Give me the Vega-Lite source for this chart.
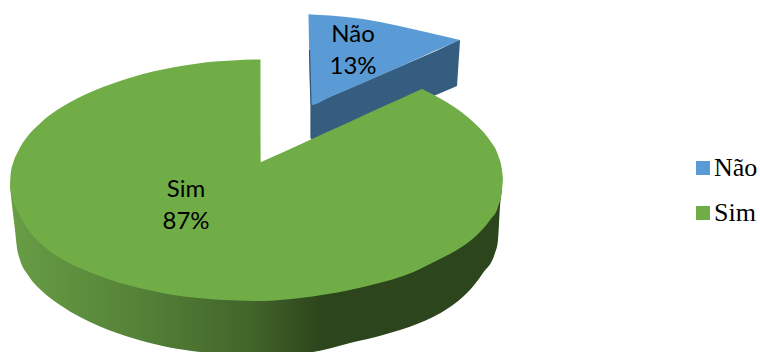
{
  "$schema": "https://vega.github.io/schema/vega-lite/v6.json",
  "width": 760,
  "height": 352,
  "padding": 0,
  "autosize": {"type": "fit", "contains": "padding"},
  "background": "white",
  "config": {
    "view": {"stroke": null},
    "legend": {"labelFont": "Liberation Serif", "labelFontSize": 26, "labelColor": "#000000", "padding": 0}
  },
  "datasets": {
    "tops": [
      {"answer": "Não", "x": 308.5, "y": 14, "y2": 14},
      {"answer": "Não", "x": 311, "y": 14.5, "y2": 105},
      {"answer": "Não", "x": 330, "y": 15.5, "y2": 97},
      {"answer": "Não", "x": 363, "y": 19, "y2": 83},
      {"answer": "Não", "x": 397, "y": 25.5, "y2": 68},
      {"answer": "Não", "x": 430, "y": 33, "y2": 53},
      {"answer": "Não", "x": 460, "y": 40, "y2": 40},
      {"answer": "Sim", "x": 10, "y": 185, "y2": 185},
      {"answer": "Sim", "x": 10.5, "y": 176, "y2": 190},
      {"answer": "Sim", "x": 11, "y": 171.5, "y2": 192},
      {"answer": "Sim", "x": 13, "y": 163.4, "y2": 200},
      {"answer": "Sim", "x": 18, "y": 151.4, "y2": 212},
      {"answer": "Sim", "x": 27, "y": 137, "y2": 228},
      {"answer": "Sim", "x": 40, "y": 123.4, "y2": 243},
      {"answer": "Sim", "x": 57, "y": 110.1, "y2": 256},
      {"answer": "Sim", "x": 70, "y": 102.3, "y2": 263.5},
      {"answer": "Sim", "x": 87, "y": 93.8, "y2": 271},
      {"answer": "Sim", "x": 103, "y": 87.1, "y2": 277.3},
      {"answer": "Sim", "x": 120, "y": 81, "y2": 283},
      {"answer": "Sim", "x": 137, "y": 75.8, "y2": 287.5},
      {"answer": "Sim", "x": 153, "y": 71.6, "y2": 291},
      {"answer": "Sim", "x": 170, "y": 68, "y2": 294.5},
      {"answer": "Sim", "x": 198, "y": 63.5, "y2": 298},
      {"answer": "Sim", "x": 215, "y": 61.6, "y2": 299.5},
      {"answer": "Sim", "x": 232, "y": 60.4, "y2": 300.3},
      {"answer": "Sim", "x": 260.5, "y": 59.5, "y2": 301},
      {"answer": "Sim", "x": 261, "y": 162, "y2": 301},
      {"answer": "Sim", "x": 265, "y": 160.2, "y2": 300.9},
      {"answer": "Sim", "x": 300, "y": 144.4, "y2": 298},
      {"answer": "Sim", "x": 350, "y": 121.7, "y2": 290},
      {"answer": "Sim", "x": 383, "y": 106.6, "y2": 282},
      {"answer": "Sim", "x": 400, "y": 99, "y2": 277},
      {"answer": "Sim", "x": 418, "y": 90.8, "y2": 270},
      {"answer": "Sim", "x": 422, "y": 89, "y2": 268},
      {"answer": "Sim", "x": 426, "y": 91, "y2": 266},
      {"answer": "Sim", "x": 443, "y": 100, "y2": 257.5},
      {"answer": "Sim", "x": 460, "y": 111, "y2": 248},
      {"answer": "Sim", "x": 477, "y": 125.5, "y2": 235},
      {"answer": "Sim", "x": 490, "y": 140.5, "y2": 220},
      {"answer": "Sim", "x": 498, "y": 155, "y2": 207},
      {"answer": "Sim", "x": 502, "y": 170, "y2": 190},
      {"answer": "Sim", "x": 503, "y": 179, "y2": 179}
    ],
    "walls": [
      {"answer": "Não", "x": 311, "y": 105, "y2": 140},
      {"answer": "Não", "x": 436, "y": 51, "y2": 95},
      {"answer": "Não", "x": 457, "y": 41, "y2": 86},
      {"answer": "Não", "x": 460, "y": 40, "y2": 41},
      {"answer": "Sim", "x": 10, "y": 185, "y2": 185},
      {"answer": "Sim", "x": 12, "y": 190, "y2": 205},
      {"answer": "Sim", "x": 15, "y": 200, "y2": 230},
      {"answer": "Sim", "x": 17, "y": 205, "y2": 248},
      {"answer": "Sim", "x": 20, "y": 210, "y2": 260},
      {"answer": "Sim", "x": 28, "y": 225, "y2": 275},
      {"answer": "Sim", "x": 43, "y": 240, "y2": 292},
      {"answer": "Sim", "x": 60, "y": 252, "y2": 305},
      {"answer": "Sim", "x": 80, "y": 262, "y2": 317},
      {"answer": "Sim", "x": 100, "y": 270, "y2": 326.5},
      {"answer": "Sim", "x": 117, "y": 278, "y2": 333},
      {"answer": "Sim", "x": 133, "y": 283, "y2": 338.3},
      {"answer": "Sim", "x": 167, "y": 290, "y2": 347},
      {"answer": "Sim", "x": 200, "y": 295, "y2": 352},
      {"answer": "Sim", "x": 230, "y": 298, "y2": 355},
      {"answer": "Sim", "x": 260, "y": 299, "y2": 356},
      {"answer": "Sim", "x": 290, "y": 297, "y2": 354},
      {"answer": "Sim", "x": 313, "y": 295, "y2": 352},
      {"answer": "Sim", "x": 350, "y": 287, "y2": 343},
      {"answer": "Sim", "x": 383, "y": 279, "y2": 335},
      {"answer": "Sim", "x": 400, "y": 274, "y2": 330},
      {"answer": "Sim", "x": 417, "y": 268, "y2": 324},
      {"answer": "Sim", "x": 433, "y": 260, "y2": 317},
      {"answer": "Sim", "x": 450, "y": 250, "y2": 307},
      {"answer": "Sim", "x": 467, "y": 240, "y2": 293},
      {"answer": "Sim", "x": 483, "y": 225, "y2": 273},
      {"answer": "Sim", "x": 495, "y": 208, "y2": 253},
      {"answer": "Sim", "x": 498, "y": 203, "y2": 240},
      {"answer": "Sim", "x": 500, "y": 195, "y2": 207},
      {"answer": "Sim", "x": 502, "y": 188, "y2": 190}
    ],
    "edges": [
      {"x": 309.5, "y": 50},
      {"x": 311, "y": 105},
      {"x": 311, "y": 138}
    ],
    "labels": [
      {"answer": "Não", "label": "Não\n13%", "x": 353, "y": 35},
      {"answer": "Sim", "label": "Sim\n87%", "x": 186, "y": 190}
    ]
  },
  "layer": [
    {
      "data": {"name": "walls"},
      "transform": [{"filter": "datum.answer === 'Não'"}],
      "mark": {"type": "area", "color": "#355d80", "clip": true},
      "encoding": {
        "x": {"field": "x", "type": "quantitative", "scale": {"domain": [0, 760]}, "axis": null},
        "y": {"field": "y", "type": "quantitative", "scale": {"domain": [352, 0]}, "axis": null, "stack": null},
        "y2": {"field": "y2"}
      }
    },
    {
      "data": {"name": "walls"},
      "transform": [{"filter": "datum.answer === 'Sim'"}],
      "mark": {
        "type": "area",
        "clip": true,
        "interpolate": "monotone",
        "color": {
          "gradient": "linear",
          "x1": 0, "y1": 0, "x2": 1, "y2": 0,
          "stops": [
            {"offset": 0, "color": "#689d45"},
            {"offset": 0.25, "color": "#558338"},
            {"offset": 0.5, "color": "#41632a"},
            {"offset": 0.63, "color": "#2d451c"},
            {"offset": 1, "color": "#2d451c"}
          ]
        }
      },
      "encoding": {
        "x": {"field": "x", "type": "quantitative", "scale": {"domain": [0, 760]}, "axis": null},
        "y": {"field": "y", "type": "quantitative", "scale": {"domain": [352, 0]}, "axis": null, "stack": null},
        "y2": {"field": "y2"}
      }
    },
    {
      "data": {"name": "tops"},
      "mark": {"type": "area", "clip": true, "interpolate": "monotone"},
      "encoding": {
        "x": {"field": "x", "type": "quantitative", "scale": {"domain": [0, 760]}, "axis": null},
        "y": {"field": "y", "type": "quantitative", "scale": {"domain": [352, 0]}, "axis": null, "stack": null},
        "y2": {"field": "y2"},
        "color": {
          "field": "answer",
          "type": "nominal",
          "scale": {"domain": ["Não", "Sim"], "range": ["#5b9bd5", "#70ad47"]},
          "legend": {
            "title": null,
            "orient": "none",
            "legendX": 690,
            "legendY": 155,
            "symbolType": "square",
            "symbolSize": 196,
            "symbolStrokeWidth": 0,
            "symbolOpacity": 1,
            "labelOffset": -2,
            "rowPadding": 19,
            "labelLimit": 100
          }
        }
      }
    },
    {
      "data": {"name": "edges"},
      "mark": {"type": "line", "strokeWidth": 1.2, "clip": true, "color": "#34587a"},
      "encoding": {
        "x": {"field": "x", "type": "quantitative", "scale": {"domain": [0, 760]}, "axis": null},
        "y": {"field": "y", "type": "quantitative", "scale": {"domain": [352, 0]}, "axis": null},
        "order": {"field": "y"}
      }
    },
    {
      "data": {"name": "labels"},
      "mark": {"type": "text", "font": "Lato", "fontSize": 24, "lineBreak": "\n", "lineHeight": 32, "align": "center", "baseline": "middle", "color": "#000000"},
      "encoding": {
        "x": {"field": "x", "type": "quantitative", "scale": {"domain": [0, 760]}, "axis": null},
        "y": {"field": "y", "type": "quantitative", "scale": {"domain": [352, 0]}, "axis": null},
        "text": {"field": "label"}
      }
    }
  ]
}
